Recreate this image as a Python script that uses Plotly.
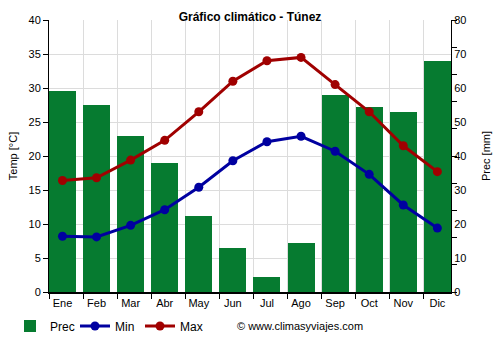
import plotly.graph_objects as go

months = ["Ene", "Feb", "Mar", "Abr", "May", "Jun", "Jul", "Ago", "Sep", "Oct", "Nov", "Dic"]
prec = [59, 55, 46, 38, 22.5, 13, 4.5, 14.5, 58, 54.5, 53, 68]
t_min = [8.2, 8.1, 9.8, 12.1, 15.4, 19.3, 22.1, 22.9, 20.7, 17.3, 12.8, 9.4]
t_max = [16.4, 16.8, 19.4, 22.3, 26.5, 31.0, 34.0, 34.5, 30.5, 26.5, 21.5, 17.7]

xs = list(range(len(months)))
GREEN = "#067b30"
BLUE = "#0000a0"
RED = "#a00000"
FONT = "Liberation Sans, Arial, sans-serif"

fig = go.Figure()
# precipitation on the base (right-hand) axis so the temperature lines sit on top
fig.add_trace(go.Bar(x=xs, y=prec, name="Prec", marker=dict(color=GREEN, line_width=0),
                     width=0.79, yaxis="y"))
fig.add_trace(go.Scatter(x=xs, y=t_min, name="Min", mode="lines+markers", yaxis="y2",
                         line=dict(color=BLUE, width=3), marker=dict(size=9, color=BLUE)))
fig.add_trace(go.Scatter(x=xs, y=t_max, name="Max", mode="lines+markers", yaxis="y2",
                         line=dict(color=RED, width=3), marker=dict(size=9, color=RED)))

x0 = -0.395
fig.update_layout(
    width=500, height=350,
    margin=dict(l=49, r=49, t=20, b=58),
    paper_bgcolor="white", plot_bgcolor="white",
    font=dict(family=FONT, size=11, color="#000"),
    title=dict(text="<b>Gráfico climático - Túnez</b>", x=0.5, xanchor="center",
               y=1 - 17 / 350, yanchor="middle", font=dict(size=12)),
    bargap=0,
    xaxis=dict(range=[x0, 11.4], tickvals=xs, ticktext=months, ticks="", showgrid=False,
               zeroline=False, showline=True, linecolor="#000", linewidth=2, automargin=False,
               minor=dict(tick0=x0, dtick=1, ticks="outside", ticklen=5, tickcolor="#000",
                          showgrid=True, gridcolor="#dcdcdc", gridwidth=1)),
    yaxis=dict(range=[0, 80], tickvals=list(range(0, 81, 10)), ticks="", side="right",
               showgrid=True, gridcolor="#dcdcdc", zeroline=False, showline=True,
               linecolor="#000", linewidth=1, automargin=False,
               minor=dict(tick0=0, dtick=8, ticks="outside", ticklen=5, tickcolor="#000",
                          showgrid=False),
               title=dict(text="Prec [mm]", standoff=16, font=dict(size=11))),
    yaxis2=dict(range=[0, 40], dtick=5, ticks="outside", ticklen=5, tickcolor="#000",
                showgrid=False, zeroline=False, showline=True, overlaying="y", side="left",
                linecolor="#000", linewidth=1, automargin=False,
                title=dict(text="Temp [°C]", standoff=8, font=dict(size=11))),
    legend=dict(orientation="h", xref="container", yref="container",
                x=10 / 500, xanchor="left", y=1 - 326 / 350, yanchor="middle",
                font=dict(size=12), entrywidth=20, entrywidthmode="pixels",
                itemwidth=30, traceorder="normal"),
    showlegend=True,
)
fig.add_annotation(text="© www.climasyviajes.com", xref="paper", yref="paper",
                   x=(300 - 49) / 402, y=-0.125, xanchor="center", yanchor="middle",
                   showarrow=False, font=dict(size=11))
fig.write_html("out.html")
